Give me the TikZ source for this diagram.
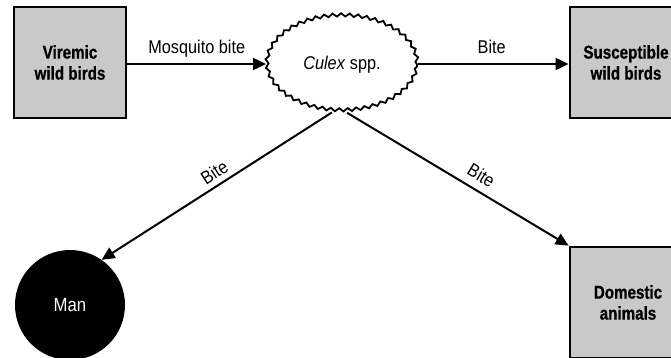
\documentclass[tikz,border=0pt]{standalone}
\usepackage{fontspec}
\setmainfont{Liberation Sans}[FakeStretch=0.88]
\newfontfamily\hostfont{Liberation Sans}[FakeStretch=0.82, BoldFeatures={FakeBold=0.8}]
\usetikzlibrary{arrows.meta,shapes.geometric,decorations.pathmorphing}

\definecolor{hostgray}{gray}{0.79}

\tikzset{
  host/.style={rectangle, draw=black, line width=2.8pt, fill=hostgray,
    minimum width=112pt, minimum height=111pt, align=center,
    font=\hostfont\fontsize{18.5}{21}\selectfont\bfseries},
  vector/.style={ellipse, draw=black, line width=1.8pt, fill=white,
    minimum width=150pt, minimum height=95pt, inner sep=0pt,
    decorate, decoration={snake, segment length=8.5pt, amplitude=1.6pt},
    font=\fontsize{18.5}{21}\selectfont},
  humanhost/.style={circle, fill=black, minimum size=110pt, inner sep=0pt,
    text=white, font=\fontsize{19}{22}\selectfont},
  route/.style={line width=2pt, -{Triangle[length=13pt,width=12pt]}},
  routeback/.style={line width=2pt, {Triangle[length=13pt,width=12pt]}-},
  lbl/.style={font=\fontsize{18.5}{21}\selectfont, text depth=0pt,
    inner xsep=1pt, inner ysep=9.5pt}
}

\begin{document}
\begin{tikzpicture}[x=1pt, y=-1pt]
  \useasboundingbox (0,0) rectangle (671,357);
  \clip (0,0) rectangle (671,357);

  % hosts and vector
  \node[host] (vir) at (70,62.5) {Viremic\\wild birds};
  \node[host] (sus) at (626,62.5) {Susceptible\\wild birds};
  \node[host, minimum width=116pt] (dom) at (628,302.5) {Domestic\\animals};
  \node[humanhost] (man) at (70,305) {Man};
  \node[vector] (cul) at (342,64.5) {\textit{Culex} spp.};

  % transmission routes
  \draw[route] (vir.east |- 0,64) coordinate (vout) -- node[lbl, above] {Mosquito bite} (cul.west |- vout);
  \draw[route] (cul.east |- vout) -- node[lbl, above, pos=0.49] {Bite} (sus.west |- vout);
  \draw[routeback] (man.55) -- node[lbl, sloped, above, pos=0.52, inner ysep=5.5pt] {Bite} (cul.258);
  \draw[route] (cul.276) -- node[lbl, sloped, above, pos=0.57, inner ysep=8pt] {Bite} (dom.north west);
\end{tikzpicture}
\end{document}
